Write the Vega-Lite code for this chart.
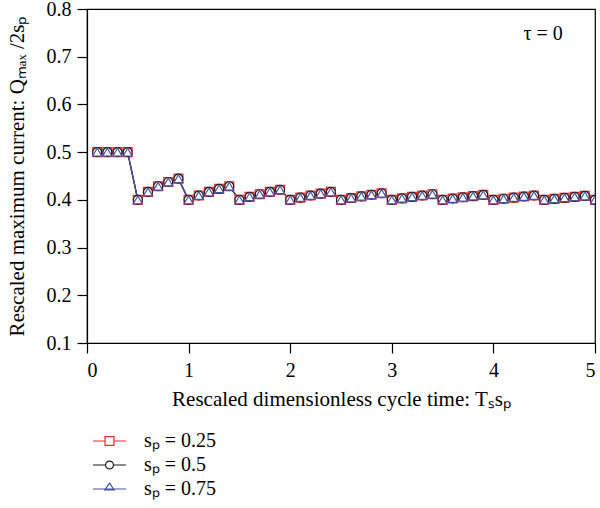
{
  "$schema": "https://vega.github.io/schema/vega-lite/v6.json",
  "width": 508,
  "height": 334,
  "autosize": "none",
  "padding": {"left": 87, "top": 9, "right": 5, "bottom": 165},
  "config": {
    "font": "Liberation Serif",
    "view": {"stroke": "black", "strokeWidth": 1.2},
    "axis": {"domainColor": "black", "domainWidth": 1.2, "tickColor": "black", "labelColor": "black", "titleColor": "black", "labelFont": "Liberation Serif", "titleFont": "Liberation Serif", "labelFontSize": 20, "titleFontSize": 21, "titleFontWeight": "normal", "tickSize": 10, "tickWidth": 1.2, "grid": false, "labelPadding": 6}
  },
  "resolve": {"legend": {"stroke": "independent", "shape": "independent"}},
  "datasets": {
    "q": [
      {"t":0.1,"y":0.5,"s":"0.25"},{"t":0.2,"y":0.5,"s":"0.25"},{"t":0.3,"y":0.5,"s":"0.25"},{"t":0.4,"y":0.5,"s":"0.25"},
      {"t":0.5,"y":0.4,"s":"0.25"},{"t":0.6,"y":0.4167,"s":"0.25"},{"t":0.7,"y":0.4286,"s":"0.25"},{"t":0.8,"y":0.4375,"s":"0.25"},{"t":0.9,"y":0.4444,"s":"0.25"},
      {"t":1.0,"y":0.4,"s":"0.25"},{"t":1.1,"y":0.4091,"s":"0.25"},{"t":1.2,"y":0.4167,"s":"0.25"},{"t":1.3,"y":0.4231,"s":"0.25"},{"t":1.4,"y":0.4286,"s":"0.25"},
      {"t":1.5,"y":0.4,"s":"0.25"},{"t":1.6,"y":0.4063,"s":"0.25"},{"t":1.7,"y":0.4118,"s":"0.25"},{"t":1.8,"y":0.4167,"s":"0.25"},{"t":1.9,"y":0.4211,"s":"0.25"},
      {"t":2.0,"y":0.4,"s":"0.25"},{"t":2.1,"y":0.4048,"s":"0.25"},{"t":2.2,"y":0.4091,"s":"0.25"},{"t":2.3,"y":0.413,"s":"0.25"},{"t":2.4,"y":0.4167,"s":"0.25"},
      {"t":2.5,"y":0.4,"s":"0.25"},{"t":2.6,"y":0.4038,"s":"0.25"},{"t":2.7,"y":0.4074,"s":"0.25"},{"t":2.8,"y":0.4107,"s":"0.25"},{"t":2.9,"y":0.4138,"s":"0.25"},
      {"t":3.0,"y":0.4,"s":"0.25"},{"t":3.1,"y":0.4032,"s":"0.25"},{"t":3.2,"y":0.4063,"s":"0.25"},{"t":3.3,"y":0.4091,"s":"0.25"},{"t":3.4,"y":0.4118,"s":"0.25"},
      {"t":3.5,"y":0.4,"s":"0.25"},{"t":3.6,"y":0.4028,"s":"0.25"},{"t":3.7,"y":0.4054,"s":"0.25"},{"t":3.8,"y":0.4079,"s":"0.25"},{"t":3.9,"y":0.4103,"s":"0.25"},
      {"t":4.0,"y":0.4,"s":"0.25"},{"t":4.1,"y":0.4024,"s":"0.25"},{"t":4.2,"y":0.4048,"s":"0.25"},{"t":4.3,"y":0.407,"s":"0.25"},{"t":4.4,"y":0.4091,"s":"0.25"},
      {"t":4.5,"y":0.4,"s":"0.25"},{"t":4.6,"y":0.4022,"s":"0.25"},{"t":4.7,"y":0.4043,"s":"0.25"},{"t":4.8,"y":0.4063,"s":"0.25"},{"t":4.9,"y":0.4082,"s":"0.25"},
      {"t":5.0,"y":0.4,"s":"0.25"},
      {"t":0.1,"y":0.5,"s":"0.5"},{"t":0.2,"y":0.5,"s":"0.5"},{"t":0.3,"y":0.5,"s":"0.5"},{"t":0.4,"y":0.5,"s":"0.5"},
      {"t":0.5,"y":0.4,"s":"0.5"},{"t":0.6,"y":0.4167,"s":"0.5"},{"t":0.7,"y":0.4286,"s":"0.5"},{"t":0.8,"y":0.4375,"s":"0.5"},{"t":0.9,"y":0.4444,"s":"0.5"},
      {"t":1.0,"y":0.4,"s":"0.5"},{"t":1.1,"y":0.4091,"s":"0.5"},{"t":1.2,"y":0.4167,"s":"0.5"},{"t":1.3,"y":0.4231,"s":"0.5"},{"t":1.4,"y":0.4286,"s":"0.5"},
      {"t":1.5,"y":0.4,"s":"0.5"},{"t":1.6,"y":0.4063,"s":"0.5"},{"t":1.7,"y":0.4118,"s":"0.5"},{"t":1.8,"y":0.4167,"s":"0.5"},{"t":1.9,"y":0.4211,"s":"0.5"},
      {"t":2.0,"y":0.4,"s":"0.5"},{"t":2.1,"y":0.4048,"s":"0.5"},{"t":2.2,"y":0.4091,"s":"0.5"},{"t":2.3,"y":0.413,"s":"0.5"},{"t":2.4,"y":0.4167,"s":"0.5"},
      {"t":2.5,"y":0.4,"s":"0.5"},{"t":2.6,"y":0.4038,"s":"0.5"},{"t":2.7,"y":0.4074,"s":"0.5"},{"t":2.8,"y":0.4107,"s":"0.5"},{"t":2.9,"y":0.4138,"s":"0.5"},
      {"t":3.0,"y":0.4,"s":"0.5"},{"t":3.1,"y":0.4032,"s":"0.5"},{"t":3.2,"y":0.4063,"s":"0.5"},{"t":3.3,"y":0.4091,"s":"0.5"},{"t":3.4,"y":0.4118,"s":"0.5"},
      {"t":3.5,"y":0.4,"s":"0.5"},{"t":3.6,"y":0.4028,"s":"0.5"},{"t":3.7,"y":0.4054,"s":"0.5"},{"t":3.8,"y":0.4079,"s":"0.5"},{"t":3.9,"y":0.4103,"s":"0.5"},
      {"t":4.0,"y":0.4,"s":"0.5"},{"t":4.1,"y":0.4024,"s":"0.5"},{"t":4.2,"y":0.4048,"s":"0.5"},{"t":4.3,"y":0.407,"s":"0.5"},{"t":4.4,"y":0.4091,"s":"0.5"},
      {"t":4.5,"y":0.4,"s":"0.5"},{"t":4.6,"y":0.4022,"s":"0.5"},{"t":4.7,"y":0.4043,"s":"0.5"},{"t":4.8,"y":0.4063,"s":"0.5"},{"t":4.9,"y":0.4082,"s":"0.5"},
      {"t":5.0,"y":0.4,"s":"0.5"},
      {"t":0.1,"y":0.5,"s":"0.75"},{"t":0.2,"y":0.5,"s":"0.75"},{"t":0.3,"y":0.5,"s":"0.75"},{"t":0.4,"y":0.5,"s":"0.75"},
      {"t":0.5,"y":0.4,"s":"0.75"},{"t":0.6,"y":0.4167,"s":"0.75"},{"t":0.7,"y":0.4286,"s":"0.75"},{"t":0.8,"y":0.4375,"s":"0.75"},{"t":0.9,"y":0.4444,"s":"0.75"},
      {"t":1.0,"y":0.4,"s":"0.75"},{"t":1.1,"y":0.4091,"s":"0.75"},{"t":1.2,"y":0.4167,"s":"0.75"},{"t":1.3,"y":0.4231,"s":"0.75"},{"t":1.4,"y":0.4286,"s":"0.75"},
      {"t":1.5,"y":0.4,"s":"0.75"},{"t":1.6,"y":0.4063,"s":"0.75"},{"t":1.7,"y":0.4118,"s":"0.75"},{"t":1.8,"y":0.4167,"s":"0.75"},{"t":1.9,"y":0.4211,"s":"0.75"},
      {"t":2.0,"y":0.4,"s":"0.75"},{"t":2.1,"y":0.4048,"s":"0.75"},{"t":2.2,"y":0.4091,"s":"0.75"},{"t":2.3,"y":0.413,"s":"0.75"},{"t":2.4,"y":0.4167,"s":"0.75"},
      {"t":2.5,"y":0.4,"s":"0.75"},{"t":2.6,"y":0.4038,"s":"0.75"},{"t":2.7,"y":0.4074,"s":"0.75"},{"t":2.8,"y":0.4107,"s":"0.75"},{"t":2.9,"y":0.4138,"s":"0.75"},
      {"t":3.0,"y":0.4,"s":"0.75"},{"t":3.1,"y":0.4032,"s":"0.75"},{"t":3.2,"y":0.4063,"s":"0.75"},{"t":3.3,"y":0.4091,"s":"0.75"},{"t":3.4,"y":0.4118,"s":"0.75"},
      {"t":3.5,"y":0.4,"s":"0.75"},{"t":3.6,"y":0.4028,"s":"0.75"},{"t":3.7,"y":0.4054,"s":"0.75"},{"t":3.8,"y":0.4079,"s":"0.75"},{"t":3.9,"y":0.4103,"s":"0.75"},
      {"t":4.0,"y":0.4,"s":"0.75"},{"t":4.1,"y":0.4024,"s":"0.75"},{"t":4.2,"y":0.4048,"s":"0.75"},{"t":4.3,"y":0.407,"s":"0.75"},{"t":4.4,"y":0.4091,"s":"0.75"},
      {"t":4.5,"y":0.4,"s":"0.75"},{"t":4.6,"y":0.4022,"s":"0.75"},{"t":4.7,"y":0.4043,"s":"0.75"},{"t":4.8,"y":0.4063,"s":"0.75"},{"t":4.9,"y":0.4082,"s":"0.75"},
      {"t":5.0,"y":0.4,"s":"0.75"}
    ]
  },
  "layer": [
    {
      "data": {"name": "q"},
      "mark": {"type": "line", "strokeWidth": 1.3, "clip": true},
      "encoding": {
        "x": {"field": "t", "type": "quantitative", "scale": {"domain": [0, 5], "nice": false, "zero": false}, "axis": {"values": [0, 1, 2, 3, 4, 5], "format": "d", "title": "Rescaled dimensionless cycle time: Tₛsₚ", "titlePadding": 8, "labelPadding": 7}},
        "y": {"field": "y", "type": "quantitative", "scale": {"domain": [0.1, 0.8], "nice": false, "zero": false}, "axis": {"values": [0.1, 0.2, 0.3, 0.4, 0.5, 0.6, 0.7, 0.8], "format": ".1f", "title": "Rescaled maximum current: Qₘₐₓ /2sₚ", "titlePadding": 19}},
        "stroke": {"field": "s", "type": "nominal", "scale": {"domain": ["0.25", "0.5", "0.75"], "range": ["#ee2a2f", "#1a1a1a", "#4853a3"]},
          "legend": {
            "orient": "none", "legendX": 5, "legendY": 421, "title": null, "direction": "vertical",
            "labelExpr": "'sₚ = ' + datum.label", "labelFont": "Liberation Serif", "labelFontSize": 20, "labelColor": "black",
            "clipHeight": 22, "rowPadding": 2, "labelOffset": 17, "padding": 0, "symbolSize": 1089, "symbolStrokeWidth": 1.2, "symbolOpacity": 1,
            "encode": {"symbols": {"update": {
              "shape": {"signal": "datum.value === '0.25' ? 'M-1,0H-0.27M0.27,0H1M-0.27,-0.27H0.27V0.27H-0.27Z' : datum.value === '0.5' ? 'M-1,0H-0.24M0.24,0H1M-0.24,0A0.24,0.24 0 1,0 0.24,0A0.24,0.24 0 1,0 -0.24,0Z' : 'M-1,0H1M0,-0.36L0.28,0.06L-0.28,0.06Z'"},
              "size": {"value": 1089},
              "fill": {"value": "transparent"},
              "opacity": {"value": 1},
              "strokeOpacity": {"value": 1},
              "strokeWidth": {"value": 1.2}
            }}}
          }
        }
      }
    },
    {
      "data": {"name": "q"},
      "mark": {"type": "point", "filled": false, "fill": "white", "fillOpacity": 1, "opacity": 1, "strokeWidth": 1.2, "size": 80, "clip": true},
      "encoding": {
        "x": {"field": "t", "type": "quantitative"},
        "y": {"field": "y", "type": "quantitative"},
        "stroke": {"field": "s", "type": "nominal", "legend": null},
        "shape": {"field": "s", "type": "nominal", "scale": {"domain": ["0.25", "0.5", "0.75"], "range": ["square", "circle", "triangle-up"]}, "legend": null}
      }
    },
    {
      "data": {"values": [{"label": "τ = 0"}]},
      "mark": {"type": "text", "font": "Liberation Serif", "fontSize": 20, "align": "center", "baseline": "middle", "color": "black"},
      "encoding": {
        "x": {"datum": 4.49, "type": "quantitative"},
        "y": {"datum": 0.748, "type": "quantitative"},
        "text": {"field": "label", "type": "nominal"}
      }
    }
  ]
}
